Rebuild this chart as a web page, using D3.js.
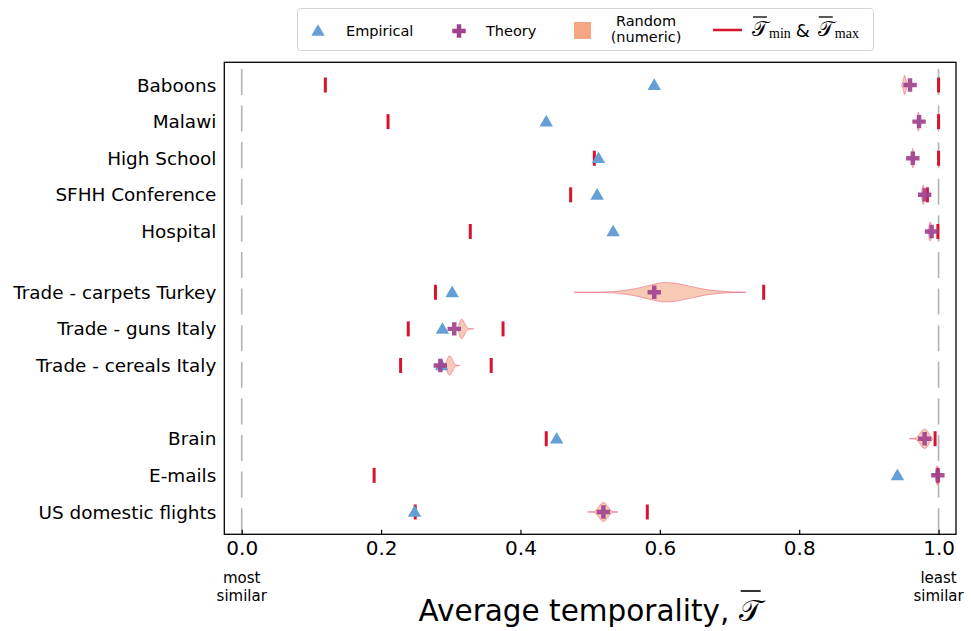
<!DOCTYPE html>
<html>
<head>
<meta charset="utf-8">
<script src="https://cdn.jsdelivr.net/npm/d3@7"></script>
<style>
  body { margin: 0; background: #fff; }
  svg { font-family: "DejaVu Sans", sans-serif; }
</style>
</head>
<body>
<svg id="chart" width="971" height="631"></svg>
<script>
// datasets, top to bottom
const datasets = ["Baboons", "Malawi", "High School", "SFHH Conference", "Hospital",
  "Trade - carpets Turkey", "Trade - guns Italy", "Trade - cereals Italy",
  "Brain", "E-mails", "US domestic flights"];
const positions = [0, 1, 2, 3, 4, 5.66, 6.66, 7.66, 9.66, 10.66, 11.66];

const empirical = [0.592, 0.437, 0.512, 0.510, 0.533, 0.302, 0.288, 0.287, 0.452, 0.941, 0.248];
const theory    = [0.959, 0.972, 0.963, 0.980, 0.990, 0.592, 0.305, 0.285, 0.980, 0.999, 0.519];
const tauMin    = [0.120, 0.210, 0.506, 0.472, 0.328, 0.278, 0.239, 0.228, 0.437, 0.190, 0.249];
const tauMax    = [1.000, 1.000, 1.000, 0.984, 0.999, 0.749, 0.375, 0.358, 0.995, 0.999, 0.582];

// random (numeric) distributions: [value, relative density]
const violinBaboons  = [[0.947, 0], [0.950, 0.7], [0.951, 1], [0.953, 0.6], [0.955, 0]];
const violinMalawi   = [[0.969, 0], [0.971, 1], [0.973, 0]];
const violinSchool   = [[0.961, 0], [0.963, 1], [0.965, 0]];
const violinSFHH     = [[0.975, 0], [0.978, 1], [0.981, 0]];
const violinHospital = [[0.985, 0], [0.988, 1], [0.991, 0]];
const violinCarpets  = [[0.477, 0], [0.50, 0.02], [0.53, 0.06], [0.55, 0.2], [0.57, 0.45], [0.59, 0.8],
  [0.607, 1], [0.625, 0.9], [0.645, 0.6], [0.665, 0.3], [0.685, 0.12], [0.705, 0.04], [0.724, 0]];
const violinGuns     = [[0.310, 0], [0.312, 0.5], [0.315, 1], [0.318, 0.85], [0.321, 0.4], [0.324, 0.1], [0.328, 0.02], [0.333, 0]];
const violinCereals  = [[0.291, 0], [0.294, 0.5], [0.298, 1], [0.301, 0.8], [0.304, 0.35], [0.307, 0.08], [0.313, 0]];
const violinBrain    = [[0.958, 0], [0.966, 0.05], [0.972, 0.4], [0.977, 0.9], [0.980, 1], [0.984, 0.8], [0.988, 0.3], [0.992, 0]];
const violinEmails   = [[0.995, 0], [0.998, 1], [1.001, 0]];
const violinFlights  = [[0.496, 0], [0.505, 0.05], [0.510, 0.3], [0.515, 0.8], [0.519, 1], [0.523, 0.8], [0.528, 0.3], [0.533, 0.05], [0.540, 0]];
const violins = [violinBaboons, violinMalawi, violinSchool, violinSFHH, violinHospital,
  violinCarpets, violinGuns, violinCereals, violinBrain, violinEmails, violinFlights];

const xTicks = [0, 0.2, 0.4, 0.6, 0.8, 1.0];

const blue = "#659fd6", purple = "#a0428e", red = "#d8132d", salmon = "#f4a582";

const svg = d3.select("#chart");
const pLeft = 224.3, pRight = 956, pTop = 62.3, pBottom = 534.3;

const x = d3.scaleLinear().domain([-0.025, 1.025]).range([pLeft, pRight]);
const y = d3.scaleLinear().domain([-0.62, 12.27]).range([pTop, pBottom]);
const halfW = 0.265 * (y(1) - y(0));

// dashed guide lines at 0 and 1
svg.append("g").selectAll("line")
  .data([0, 1])
  .enter().append("line")
  .attr("x1", d => x(d)).attr("x2", d => x(d))
  .attr("y1", y(positions[0]) - 16).attr("y2", pBottom)
  .attr("stroke", "#b3b3b3")
  .attr("stroke-width", 1.6)
  .attr("stroke-dasharray", "26,10.6");

// violins
const area = d3.area()
  .x(d => x(d[0]))
  .curve(d3.curveMonotoneX);

svg.append("g").selectAll("path")
  .data(violins)
  .enter().append("path")
  .attr("d", (v, i) => area
      .y0(d => y(positions[i]) - d[1] * halfW)
      .y1(d => y(positions[i]) + d[1] * halfW)(v))
  .attr("fill", salmon)
  .attr("fill-opacity", 0.6)
  .attr("stroke", "#e2476f")
  .attr("stroke-opacity", 0.45)
  .attr("stroke-width", 1);

// min / max bars
const bars = svg.append("g");
[tauMin, tauMax].forEach(arr => {
  bars.selectAll(null)
    .data(arr)
    .enter().append("line")
    .attr("x1", d => x(d)).attr("x2", d => x(d))
    .attr("y1", (d, i) => y(positions[i]) - 7.5)
    .attr("y2", (d, i) => y(positions[i]) + 7.5)
    .attr("stroke", red)
    .attr("stroke-width", 3);
});

// empirical triangles
const tri = d3.symbol().type(d3.symbolTriangle).size(78);
svg.append("g").selectAll("path")
  .data(empirical)
  .enter().append("path")
  .attr("d", tri)
  .attr("transform", (d, i) => "translate(" + x(d) + "," + (y(positions[i]) + 1) + ")")
  .attr("fill", blue);

// theory plus
const plus = d3.symbol().type(d3.symbolCross).size(100);
svg.append("g").selectAll("path")
  .data(theory)
  .enter().append("path")
  .attr("d", plus)
  .attr("transform", (d, i) => "translate(" + x(d) + "," + y(positions[i]) + ")")
  .attr("fill", purple)
  .attr("fill-opacity", 0.92);

// frame
svg.append("rect")
  .attr("x", pLeft).attr("y", pTop)
  .attr("width", pRight - pLeft).attr("height", pBottom - pTop)
  .attr("fill", "none").attr("stroke", "black").attr("stroke-width", 1.3);

// x axis, ticks inward
const xAxis = svg.append("g")
  .attr("transform", "translate(0," + pBottom + ")")
  .call(d3.axisBottom(x).tickValues(xTicks).tickFormat(d3.format(".1f"))
    .tickSizeInner(-4.5).tickSizeOuter(0).tickPadding(6.5));
xAxis.select(".domain").remove();
xAxis.selectAll("line").attr("stroke-width", 1.2);
xAxis.selectAll("text")
  .attr("font-size", "20px")
  .attr("font-family", "DejaVu Sans")
  .attr("fill", "black");

// y labels
svg.append("g").selectAll("text")
  .data(datasets)
  .enter().append("text")
  .attr("x", pLeft - 8)
  .attr("y", (d, i) => y(positions[i]))
  .attr("dy", "0.36em")
  .attr("text-anchor", "end")
  .attr("font-size", "18.4px")
  .text(d => d);

// most / least similar
[[0, "most"], [1, "least"]].forEach(([v, w]) => {
  const t = svg.append("text")
    .attr("x", x(v)).attr("y", 583)
    .attr("text-anchor", "middle")
    .attr("font-size", "15px");
  t.append("tspan").attr("x", x(v)).text(w);
  t.append("tspan").attr("x", x(v)).attr("dy", 18).text("similar");
});

const TCH = "\u{1D4AF}";

// axis title
const title = svg.append("text")
  .attr("y", 621)
  .attr("font-size", "29.5px")
  .text("Average temporality,\u00A0");
const titleT = svg.append("text")
  .attr("y", 621)
  .attr("font-size", "29.5px")
  .text(TCH);
const w1 = title.node().getComputedTextLength();
const w2 = titleT.node().getComputedTextLength();
const tx = (pLeft + pRight) / 2 - (w1 + w2) / 2;
title.attr("x", tx);
titleT.attr("x", tx + w1);
svg.append("line")
  .attr("x1", tx + w1 + 2).attr("x2", tx + w1 + w2 - 1)
  .attr("y1", 591).attr("y2", 591)
  .attr("stroke", "black").attr("stroke-width", 1.6);

// legend
const lg = svg.append("g");
lg.append("rect")
  .attr("x", 297.5).attr("y", 8.5).attr("width", 576).attr("height", 42)
  .attr("rx", 3)
  .attr("fill", "white").attr("stroke", "#d5d5d5");
lg.append("path").attr("d", tri).attr("transform", "translate(318,32)").attr("fill", blue);
lg.append("text").attr("x", 346).attr("y", 36).attr("font-size", "14.5px").text("Empirical");
lg.append("path").attr("d", plus).attr("transform", "translate(459,31)").attr("fill", purple);
lg.append("text").attr("x", 486).attr("y", 36).attr("font-size", "14.5px").text("Theory");
lg.append("rect").attr("x", 574).attr("y", 22).attr("width", 17).attr("height", 17).attr("fill", salmon);
lg.append("text").attr("x", 646).attr("y", 26).attr("text-anchor", "middle").attr("font-size", "14.5px").text("Random");
lg.append("text").attr("x", 646).attr("y", 42).attr("text-anchor", "middle").attr("font-size", "14.5px").text("(numeric)");
lg.append("line").attr("x1", 713).attr("x2", 742).attr("y1", 30).attr("y2", 30)
  .attr("stroke", red).attr("stroke-width", 2.5);

function tauLabel(x0, sub) {
  const t = lg.append("text").attr("x", x0).attr("y", 36).attr("font-size", "21px").text(TCH);
  const w = t.node().getComputedTextLength();
  lg.append("line").attr("x1", x0 + 1).attr("x2", x0 + w - 1).attr("y1", 17).attr("y2", 17)
    .attr("stroke", "black").attr("stroke-width", 1.3);
  const s = lg.append("text").attr("x", x0 + w + 1).attr("y", 38)
    .attr("font-family", "Liberation Serif").attr("font-size", "14px").text(sub);
  return x0 + w + 1 + s.node().getComputedTextLength();
}
let lx = tauLabel(752, "min");
lg.append("text").attr("x", lx + 5).attr("y", 37).attr("font-size", "18px").text("&");
tauLabel(lx + 27, "max");
</script>
</body>
</html>
